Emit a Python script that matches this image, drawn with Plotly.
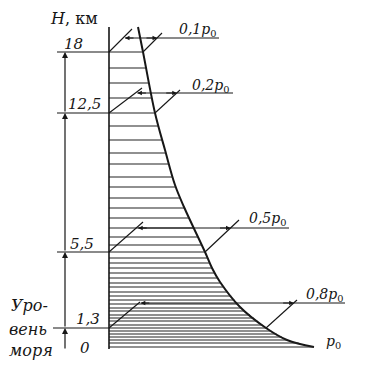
import plotly.graph_objects as go
import numpy as np

# ---- data (heights are in the diagram's schematic scale) ----
H_labels = ["0", "1,3", "5,5", "12,5", "18"]
level_h = [0, 19, 95, 234, 295]
p_labels = ["<i>p</i><sub>0</sub>", "<i>0,8p</i><sub>0</sub>", "<i>0,5p</i><sub>0</sub>",
            "<i>0,2p</i><sub>0</sub>", "<i>0,1p</i><sub>0</sub>"]
curve_p = [0.1415, 0.1659, 0.2244, 0.2732, 0.3220, 0.3659, 0.4683, 0.5024, 0.5415,
           0.6390, 0.7659, 0.8683, 1.0]
curve_h = [320, 295, 234, 197, 162, 140, 95, 79, 65, 40, 19, 7, 0]
hatch_h = [295, 279, 264, 249, 234, 221, 207, 194, 183, 170, 160, 149, 139, 129, 119,
           110, 102, 95, 89, 84, 79, 74, 69, 64, 60, 55, 51, 47, 43, 39, 36, 32, 29,
           26, 22, 19, 16, 13, 10, 7, 4, 0]
axis_top_h = 320
sea_words = ["Уро-", "вень", "моря"]

# ---- pixel helpers for decorations ----
X0, SX, Y0 = 109, 205, 347
def X(px): return (px - X0) / SX
def Y(py): return Y0 - py

INK = "#161616"
FONT = "DejaVu Serif"
fig = go.Figure()

# curve
fig.add_trace(go.Scatter(x=curve_p, y=curve_h, mode="lines",
                         line=dict(color=INK, width=2, shape="spline"), hoverinfo="skip"))

# hatching (from axis to curve)
ch = np.array(curve_h[::-1], float); cp = np.array(curve_p[::-1], float)
hx, hy = [], []
for h in hatch_h:
    pe = float(np.interp(h, ch, cp))
    hx += [0, pe, None]; hy += [h, h, None]
fig.add_trace(go.Scatter(x=hx, y=hy, mode="lines", line=dict(color="#222222", width=1.1),
                         hoverinfo="skip"))

shapes = []
def seg(x0, y0, x1, y1, w=1.2, c=INK):
    shapes.append(dict(type="line", xref="x", yref="y", x0=x0, y0=y0, x1=x1, y1=y1,
                       line=dict(color=c, width=w)))

# vertical axis
seg(0, Y(349), 0, axis_top_h, w=1.6)

annotations = []
def arrow(xt, yt, xs, ys, head=2, size=1.0, w=1.2):
    annotations.append(dict(x=xt, y=yt, ax=xs, ay=ys, xref="x", yref="y", axref="x", ayref="y",
                            text="", showarrow=True, arrowhead=head, arrowsize=size,
                            arrowwidth=w, arrowcolor=INK, standoff=0, startstandoff=0))

def label(txt, px, py, size=15, anchor="center"):
    annotations.append(dict(x=X(px), y=Y(py), xref="x", yref="y", text=txt, showarrow=False,
                            xanchor=anchor, yanchor="middle", borderpad=0,
                            font=dict(family=FONT, size=size, color=INK)))

# left dimension arrows between levels
xa = X(65)
prev = Y(350)
for h in level_h[1:]:
    arrow(xa, h, xa, prev, head=2, size=1.0, w=1.2)
    prev = h

# left level lines
left_start = {1: 53, 2: 57, 3: 57, 4: 57}
for i in range(1, 5):
    seg(X(left_start[i]), level_h[i], 0, level_h[i], w=1.1)

# dimension constructions at each level (pixel geometry of the sketch)
dimY = {1: 303, 2: 228, 3: 93, 4: 38}
lend = {1: (140, 302), 2: (143, 222), 3: (142, 88), 4: (132, 29)}
rend = {1: (297, 300), 2: (239, 220), 3: (180, 90), 4: (162, 33)}
lineEnd = {1: 345, 2: 289, 3: 233, 4: 219}
for i in range(1, 5):
    h = level_h[i]
    yL = Y0 - h
    xc = X0 + SX * float(np.interp(h, ch, cp))
    lx, ly = lend[i]; rx, ry = rend[i]
    seg(0, h, X(lx), Y(ly), w=1.1)
    seg(X(xc), h, X(rx), Y(ry), w=1.1)
    dy = dimY[i]
    xl = X0 + (lx - X0) * (yL - dy) / (yL - ly) + 2
    xr = xc + (rx - xc) * (yL - dy) / (yL - ry)
    seg(X(xl), Y(dy), X(lineEnd[i]), Y(dy), w=1.0)
    arrow(X(xl), Y(dy), X(xl + 10), Y(dy), head=2, size=0.9, w=1.0)
    arrow(X(xr), Y(dy), X(xr - 12), Y(dy), head=2, size=0.9, w=1.0)

# right labels
lab_pos = {0: (333, 342), 1: (324, 295), 2: (267, 219), 3: (210, 86), 4: (197, 30)}
for i in range(5):
    label(p_labels[i], *lab_pos[i], size=14)

# left tick labels
tick_pos = {0: (85, 348), 1: (88, 319), 2: (82, 244), 3: (84, 104), 4: (73, 44)}
for i in range(5):
    label("<i>" + H_labels[i] + "</i>", *tick_pos[i], size=15)

label("<i>H</i>, км", 74, 18, size=16)
for w, (px, py) in zip(sea_words, [(29, 305), (28, 329), (31, 350)]):
    label("<i>" + w + "</i>", px, py, size=16)

fig.update_layout(
    width=368, height=374, margin=dict(l=0, r=0, t=0, b=0),
    paper_bgcolor="white", plot_bgcolor="white", showlegend=False,
    xaxis=dict(range=[X(0), X(368)], visible=False, fixedrange=True),
    yaxis=dict(range=[Y(374), Y(0)], visible=False, fixedrange=True),
    shapes=shapes, annotations=annotations,
)
fig.write_html("out.html", config={"staticPlot": True},
               post_script="document.body.style.margin='0px';document.body.style.overflow='hidden';")
